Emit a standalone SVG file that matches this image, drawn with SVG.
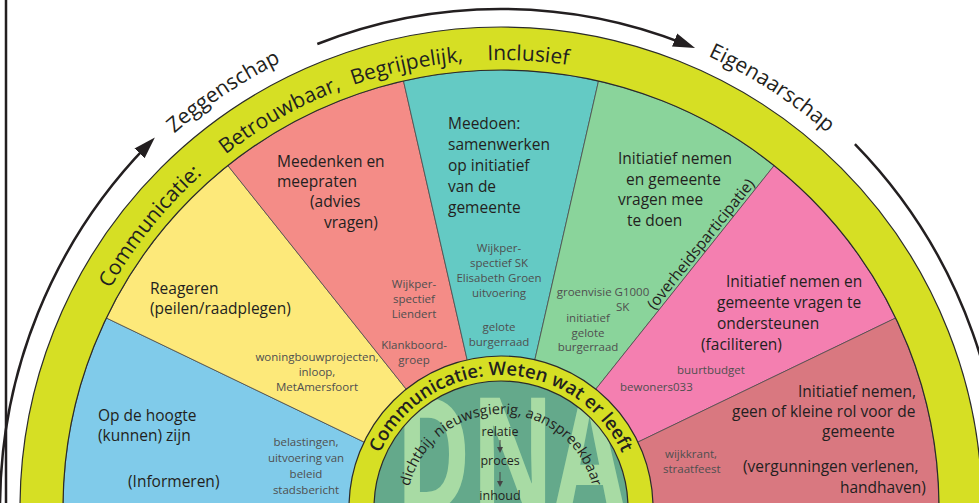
<svg xmlns="http://www.w3.org/2000/svg" width="979" height="503" viewBox="0 0 979 503">
<defs>
<style>
text{font-family:"Open Sans","Noto Sans","DejaVu Sans",sans-serif;fill:#231f20}
.lbl{font-size:15.5px}
.sm{font-size:11.5px;fill:#4f4f4f;text-anchor:middle}
.smL{font-size:11.5px;fill:#4f4f4f}
.ring{font-size:21px}
.out{font-size:21px}
.wedge{stroke:#4a4a4a;stroke-width:0.8}
.arc{fill:none;stroke:#231f20;stroke-width:2.5}
.edge{fill:none;stroke:#2b2b2b;stroke-width:1.2}
</style>
<marker id="ah" markerUnits="userSpaceOnUse" markerWidth="22" markerHeight="16" refX="10" refY="8" orient="auto"><path d="M0,1 L22,8 L0,15 z" fill="#231f20"/></marker>
<marker id="sa" markerUnits="userSpaceOnUse" markerWidth="6" markerHeight="6" refX="1" refY="3" orient="auto"><path d="M0,0 L6,3 L0,6 z" fill="#444"/></marker>
<path id="pOuter" d="M 53 508 A 448 448 0 0 1 949 508"/>
<path id="pLabel" d="M 4 508 A 497 497 0 0 1 998 508"/>
<path id="pInner" d="M 368 508 A 133 133 0 0 1 634 508"/>
<path id="pDna" d="M 407 508 A 94 94 0 0 1 595 508"/>
<clipPath id="cGreen"><circle cx="501" cy="508" r="127"/></clipPath>
</defs>
<rect width="979" height="503" fill="#ffffff"/>
<line x1="6" y1="0" x2="6" y2="503" stroke="#231f20" stroke-width="2.5"/>

<g id="informeren">
<path class="wedge" fill="#80cbea" d="M501 508 L63 508 A438 438 0 0 1 106.4 318 Z"/>
<text class="lbl" x="98" y="421">Op de hoogte</text>
<text class="lbl" x="98" y="441">(kunnen) zijn</text>
<text class="lbl" x="128" y="487">(Informeren)</text>
<text class="sm" x="306" y="446">belastingen,</text>
<text class="sm" x="306" y="462">uitvoering van</text>
<text class="sm" x="306" y="478">beleid</text>
<text class="sm" x="306" y="494">stadsbericht</text>
</g>
<g id="raadplegen">
<path class="wedge" fill="#fde97a" d="M501 508 L106.4 318 A438 438 0 0 1 227.9 165.6 Z"/>
<text class="lbl" x="150" y="294">Reageren</text>
<text class="lbl" x="150" y="314">(peilen/raadplegen)</text>
<text class="sm" x="317" y="361">woningbouwprojecten,</text>
<text class="sm" x="317" y="376">inloop,</text>
<text class="sm" x="317" y="391">MetAmersfoort</text>
</g>
<g id="adviseren">
<path class="wedge" fill="#f48c87" d="M501 508 L227.9 165.6 A438 438 0 0 1 403.5 81 Z"/>
<text class="lbl" x="277" y="167">Meedenken en</text>
<text class="lbl" x="277" y="187">meepraten</text>
<text class="lbl" x="310" y="207">(advies</text>
<text class="lbl" x="324" y="228">vragen)</text>
<text class="sm" x="414" y="288">Wijkper-</text>
<text class="sm" x="414" y="303">spectief</text>
<text class="sm" x="414" y="318">Liendert</text>
<text class="sm" x="414" y="349">Klankboord-</text>
<text class="sm" x="414" y="364">groep</text>
</g>
<g id="meedoen">
<path class="wedge" fill="#64cac4" d="M501 508 L403.5 81 A438 438 0 0 1 598.5 81 Z"/>
<text class="lbl" x="448" y="129">Meedoen:</text>
<text class="lbl" x="448" y="150">samenwerken</text>
<text class="lbl" x="448" y="171">op initiatief</text>
<text class="lbl" x="448" y="192">van de</text>
<text class="lbl" x="448" y="213">gemeente</text>
<text class="sm" x="499" y="252">Wijkper-</text>
<text class="sm" x="499" y="267">spectief SK</text>
<text class="sm" x="499" y="282">Elisabeth Groen</text>
<text class="sm" x="499" y="297">uitvoering</text>
<text class="sm" x="499" y="331">gelote</text>
<text class="sm" x="499" y="346">burgerraad</text>
</g>
<g id="overheidsparticipatie">
<path class="wedge" fill="#8ad49b" d="M501 508 L598.5 81 A438 438 0 0 1 774.1 165.6 Z"/>
<text class="lbl" x="618" y="164">Initiatief nemen</text>
<text class="lbl" x="626" y="184.5">en gemeente</text>
<text class="lbl" x="618" y="205">vragen mee</text>
<text class="lbl" x="627" y="226">te doen</text>
<text class="lbl" transform="translate(654.5 310.5) rotate(-51.43)">(overheidsparticipatie)</text>
<text class="sm" x="603" y="296">groenvisie G1000</text>
<text class="smL" x="616" y="311">SK</text>
<text class="sm" x="588" y="322">initiatief</text>
<text class="sm" x="588" y="337">gelote</text>
<text class="sm" x="588" y="351">burgerraad</text>
</g>
<g id="faciliteren">
<path class="wedge" fill="#f47fb0" d="M501 508 L774.1 165.6 A438 438 0 0 1 895.6 318 Z"/>
<text class="lbl" x="726" y="287">Initiatief nemen en</text>
<text class="lbl" x="717" y="308">gemeente vragen te</text>
<text class="lbl" x="717" y="329">ondersteunen</text>
<text class="lbl" x="701" y="350">(faciliteren)</text>
<text class="smL" x="677" y="374">buurtbudget</text>
<text class="smL" x="620" y="391">bewoners033</text>
</g>
<g id="handhaven">
<path class="wedge" fill="#d97880" d="M501 508 L895.6 318 A438 438 0 0 1 939 508 Z"/>
<text class="lbl" x="798" y="397">Initiatief nemen,</text>
<text class="lbl" x="732" y="417">geen of kleine rol voor de</text>
<text class="lbl" x="822" y="437">gemeente</text>
<text class="lbl" x="743" y="472">(vergunningen verlenen,</text>
<text class="lbl" x="840" y="493">handhaven)</text>
<text class="smL" x="665" y="458">wijkkrant,</text>
<text class="smL" x="663" y="473">straatfeest</text>
</g>

<g id="communicatie-ring">
<circle cx="501" cy="508" r="459.5" fill="none" stroke="#d6df24" stroke-width="43"/>
<circle class="edge" cx="501" cy="508" r="438"/>
<circle class="edge" cx="501" cy="508" r="481"/>
<text class="ring"><textPath href="#pOuter" startOffset="229">Communicatie:</textPath></text>
<text class="ring"><textPath href="#pOuter" startOffset="407">Betrouwbaar,</textPath></text>
<text class="ring"><textPath href="#pOuter" startOffset="553">Begrijpelijk,</textPath></text>
<text class="ring"><textPath href="#pOuter" startOffset="690">Inclusief</textPath></text>
</g>

<g id="dna">
<circle cx="501" cy="508" r="127" fill="#64a98b"/>
<g clip-path="url(#cGreen)">
<text transform="translate(510 512) scale(0.64 1)" text-anchor="middle" style="font-size:160px;font-weight:700;fill:#a8dba4">DNA</text>
</g>
<text style="font-size:14.5px"><textPath href="#pDna" startOffset="50%" text-anchor="middle">dichtbij, nieuwsgierig, aanspreekbaar</textPath></text>
<text x="500" y="436" text-anchor="middle" style="font-size:12.5px">relatie</text>
<text x="500" y="465" text-anchor="middle" style="font-size:12.5px">proces</text>
<text x="500" y="500" text-anchor="middle" style="font-size:12.5px">inhoud</text>
<line x1="500" y1="440" x2="500" y2="448" stroke="#444" stroke-width="1" marker-end="url(#sa)"/>
<line x1="500" y1="472" x2="500" y2="482" stroke="#444" stroke-width="1" marker-end="url(#sa)"/>
</g>

<g id="weten-ring">
<circle cx="501" cy="508" r="139.5" fill="none" stroke="#d6df24" stroke-width="25"/>
<circle class="edge" cx="501" cy="508" r="127"/>
<circle class="edge" cx="501" cy="508" r="152"/>
<text style="font-size:18.5px;font-weight:600"><textPath href="#pInner" startOffset="50%" text-anchor="middle">Communicatie: Weten wat er leeft</textPath></text>
</g>

<g id="labels">
<text class="out"><textPath href="#pLabel" startOffset="424">Zeggenschap</textPath></text>
<text class="out"><textPath href="#pLabel" startOffset="994">Eigenaarschap</textPath></text>
</g>

<g id="connectors">
<path class="arc" d="M0 508 A520 520 0 0 1 146.5 146.2" marker-end="url(#ah)"/>
<path class="arc" d="M317.3 44 A499 499 0 0 1 683.9 43.7" marker-end="url(#ah)"/>
<path class="arc" d="M854.9 144.1 A521 521 0 0 1 1001 553"/>
</g>
</svg>
